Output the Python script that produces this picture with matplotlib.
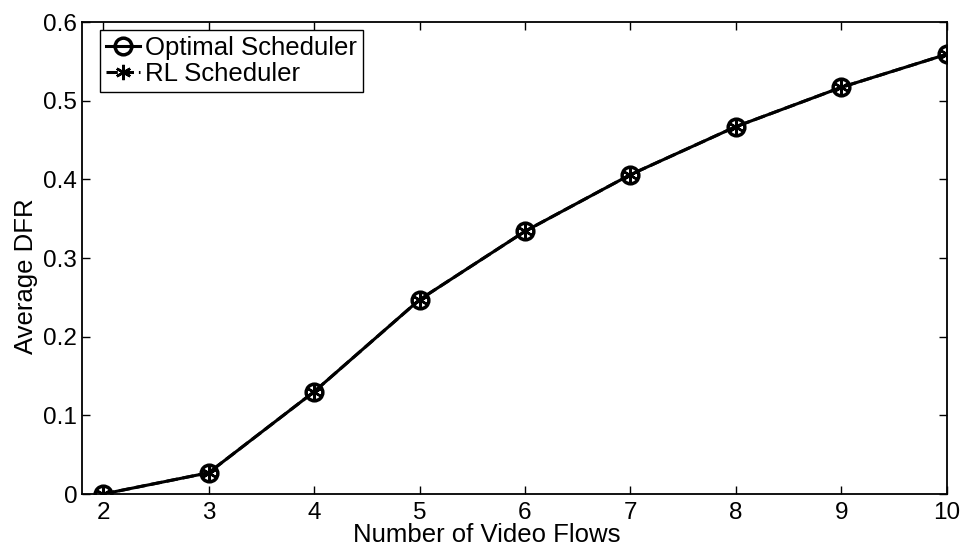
import matplotlib.pyplot as plt

plt.rcParams['font.family'] = ['Liberation Sans', 'DejaVu Sans']

# Average DFR versus number of video flows
flows = [2, 3, 4, 5, 6, 7, 8, 9, 10]
optimal_dfr = [0.0, 0.027, 0.130, 0.247, 0.334, 0.406, 0.467, 0.517, 0.559]
rl_dfr = [0.0, 0.027, 0.130, 0.247, 0.334, 0.406, 0.467, 0.517, 0.559]
y_ticks = [0, 0.1, 0.2, 0.3, 0.4, 0.5, 0.6]
y_tick_labels = ['0', '0.1', '0.2', '0.3', '0.4', '0.5', '0.6']

fig = plt.figure(figsize=(9.63, 5.46), dpi=100)
ax = fig.add_axes([0.0852, 0.0952, 0.898, 0.8645])

ax.plot(flows, optimal_dfr, '-', color='black', lw=2.2,
        marker='o', markersize=12, markerfacecolor='none',
        markeredgewidth=2.5, label='Optimal Scheduler')
ax.plot(flows, rl_dfr, '--', color='black', lw=2.2,
        marker=(6, 2, 0), markersize=11, markeredgewidth=1.8,
        label='RL Scheduler')

ax.set_xlim(1.8, 10)
ax.set_ylim(0, 0.6)
ax.set_xticks(flows)
ax.set_yticks(y_ticks)
ax.set_yticklabels(y_tick_labels)

ax.tick_params(direction='in', top=True, right=True, length=6, width=1,
               labelsize=17.5)
ax.tick_params(axis='x', pad=6)
ax.tick_params(axis='y', pad=3.5)
for s in ax.spines.values():
    s.set_linewidth(1.3)

ax.set_xlabel('Number of Video Flows', fontsize=18.5)
ax.set_ylabel('Average DFR', fontsize=18.5)
ax.xaxis.set_label_coords(0.468, -0.061)
ax.yaxis.set_label_coords(-0.051, 0.462)

leg = ax.legend(loc='upper left', bbox_to_anchor=(0.0208, 0.983),
                fontsize=18.5, frameon=True, fancybox=False,
                edgecolor='black', framealpha=1, handlelength=1.3,
                handletextpad=0.2, borderpad=0.25, labelspacing=0.05,
                borderaxespad=0)
leg.get_frame().set_linewidth(1.0)

fig.savefig('out.png', dpi=100)
